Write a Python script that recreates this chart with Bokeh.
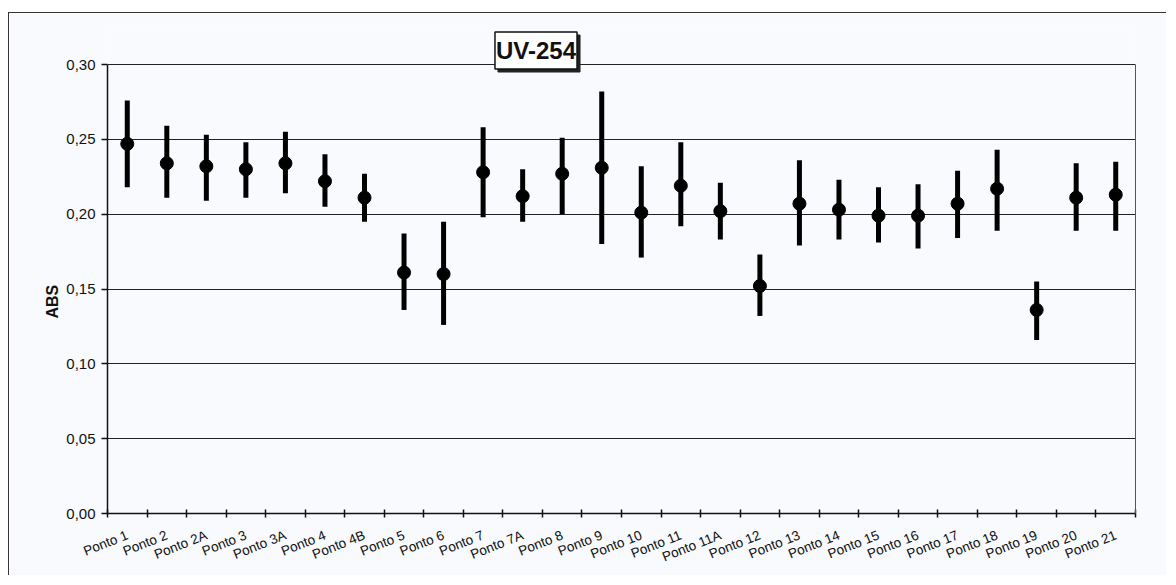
import numpy as np
from bokeh.plotting import figure
from bokeh.models import (FixedTicker, CustomJSTickFormatter, Label, Range1d, ColumnDataSource,
                          LinearAxis, Title)
from bokeh.embed import file_html
from bokeh.resources import INLINE

categories = ["Ponto 1", "Ponto 2", "Ponto 2A", "Ponto 3", "Ponto 3A", "Ponto 4", "Ponto 4B",
              "Ponto 5", "Ponto 6", "Ponto 7", "Ponto 7A", "Ponto 8", "Ponto 9", "Ponto 10",
              "Ponto 11", "Ponto 11A", "Ponto 12", "Ponto 13", "Ponto 14", "Ponto 15",
              "Ponto 16", "Ponto 17", "Ponto 18", "Ponto 19", "Ponto 20", "Ponto 21"]
mean_abs = [0.247, 0.234, 0.232, 0.230, 0.234, 0.222, 0.211, 0.161, 0.160, 0.228, 0.212, 0.227, 0.231,
            0.201, 0.219, 0.202, 0.152, 0.207, 0.203, 0.199, 0.199, 0.207, 0.217, 0.136, 0.211, 0.213]
upper_abs = [0.276, 0.259, 0.253, 0.248, 0.255, 0.240, 0.227, 0.187, 0.195, 0.258, 0.230, 0.251, 0.282,
             0.232, 0.248, 0.221, 0.173, 0.236, 0.223, 0.218, 0.220, 0.229, 0.243, 0.155, 0.234, 0.235]
lower_abs = [0.218, 0.211, 0.209, 0.211, 0.214, 0.205, 0.195, 0.136, 0.126, 0.198, 0.195, 0.200, 0.180,
             0.171, 0.192, 0.183, 0.132, 0.179, 0.183, 0.181, 0.177, 0.184, 0.189, 0.116, 0.189, 0.189]
y_ticks = [0.0, 0.05, 0.10, 0.15, 0.20, 0.25, 0.30]
title_text = "UV-254"
y_label = "ABS"

n = len(categories)
xpos = [i + 0.5 for i in range(n)]
src = ColumnDataSource(dict(x=xpos, m=mean_abs, lo=lower_abs, hi=upper_abs, cat=categories))

ymax = y_ticks[-1]
bg = "#f8fafd"
p = figure(width=1158, height=563, x_range=Range1d(0, n), y_range=Range1d(0, ymax * 484 / 449),
           output_backend="svg", toolbar_location=None,
           min_border_left=98, min_border_right=32, min_border_top=16, min_border_bottom=63)
p.styles = {"margin-top": "12px", "margin-left": "8px",
            "border-left": "1px solid #333", "border-top": "1px solid #333"}
p.background_fill_color = bg
p.border_fill_color = bg
p.outline_line_color = None

# grid
p.xgrid.visible = False
p.ygrid.ticker = FixedTicker(ticks=y_ticks)
p.ygrid.grid_line_color = "#222"
p.ygrid.grid_line_width = 1

# y axis
p.yaxis.ticker = FixedTicker(ticks=y_ticks)
p.yaxis.bounds = (0, ymax)
p.yaxis.formatter = CustomJSTickFormatter(code="return tick.toFixed(2).replace('.', ',');")
p.yaxis.major_tick_in = 0
p.yaxis.major_tick_out = 6
p.yaxis.minor_tick_line_color = None
p.yaxis.axis_line_color = "#111"
p.yaxis.axis_line_width = 1.5
p.yaxis.major_tick_line_color = "#111"
p.yaxis.major_tick_line_width = 1.5
p.yaxis.major_label_text_font = "Liberation Sans"
p.yaxis.major_label_text_font_size = "15px"
p.yaxis.major_label_text_color = "#111"
p.yaxis.major_label_standoff = 6

# y axis title, positioned along the 0..0.30 part of the frame
ylab = Title(text=y_label, align="left", offset=195, text_font="Liberation Sans",
             text_font_style="bold", text_font_size="16px", text_color="#111", standoff=6)
p.add_layout(ylab, "left")

# right border of plot area
raxis = LinearAxis(bounds=(0, ymax), ticker=FixedTicker(ticks=[]), major_tick_line_color=None,
                   minor_tick_line_color=None, major_label_text_font_size="0px",
                   axis_line_color="#555", axis_line_width=1)
p.add_layout(raxis, "right")

# x axis
p.xaxis.ticker = FixedTicker(ticks=xpos, minor_ticks=list(range(n + 1)))
p.xaxis.major_label_overrides = {float(x): c for x, c in zip(xpos, categories)}
p.xaxis.major_tick_in = 0
p.xaxis.major_tick_out = 0
p.xaxis.minor_tick_in = 4
p.xaxis.minor_tick_out = 4
p.xaxis.minor_tick_line_color = "#111"
p.xaxis.minor_tick_line_width = 1.5
p.xaxis.axis_line_color = "#111"
p.xaxis.axis_line_width = 1.5
p.xaxis.major_label_orientation = 0.38
p.xaxis.major_label_text_font = "Liberation Sans"
p.xaxis.major_label_text_font_size = "13.5px"
p.xaxis.major_label_text_color = "#111"
p.xaxis.major_label_standoff = 17

# error bars and means
p.segment(x0="x", y0="lo", x1="x", y1="hi", source=src, line_color="black", line_width=5)
p.scatter(x="x", y="m", source=src, size=13, fill_color="black", line_color="black")

# title box with shadow
tx = n * (536.5 - 108) / 1028
ty = ymax + 14 * ymax / 449
shadow = Label(x=tx, y=ty, x_offset=3, y_offset=-3, text=title_text, text_align="center",
               text_baseline="middle", text_font="Liberation Sans", text_font_style="bold",
               text_font_size="24px", text_color="#222", background_fill_color="#222",
               border_line_color="#222", padding=(1, 5))
title = Label(x=tx, y=ty, text=title_text, text_align="center",
              text_baseline="middle", text_font="Liberation Sans", text_font_style="bold",
              text_font_size="24px", text_color="#111", background_fill_color="white",
              border_line_color="#111", border_line_width=1.5, padding=(1, 5))
p.add_layout(shadow)
p.add_layout(title)

open("out.html", "w").write(file_html(p, INLINE))
